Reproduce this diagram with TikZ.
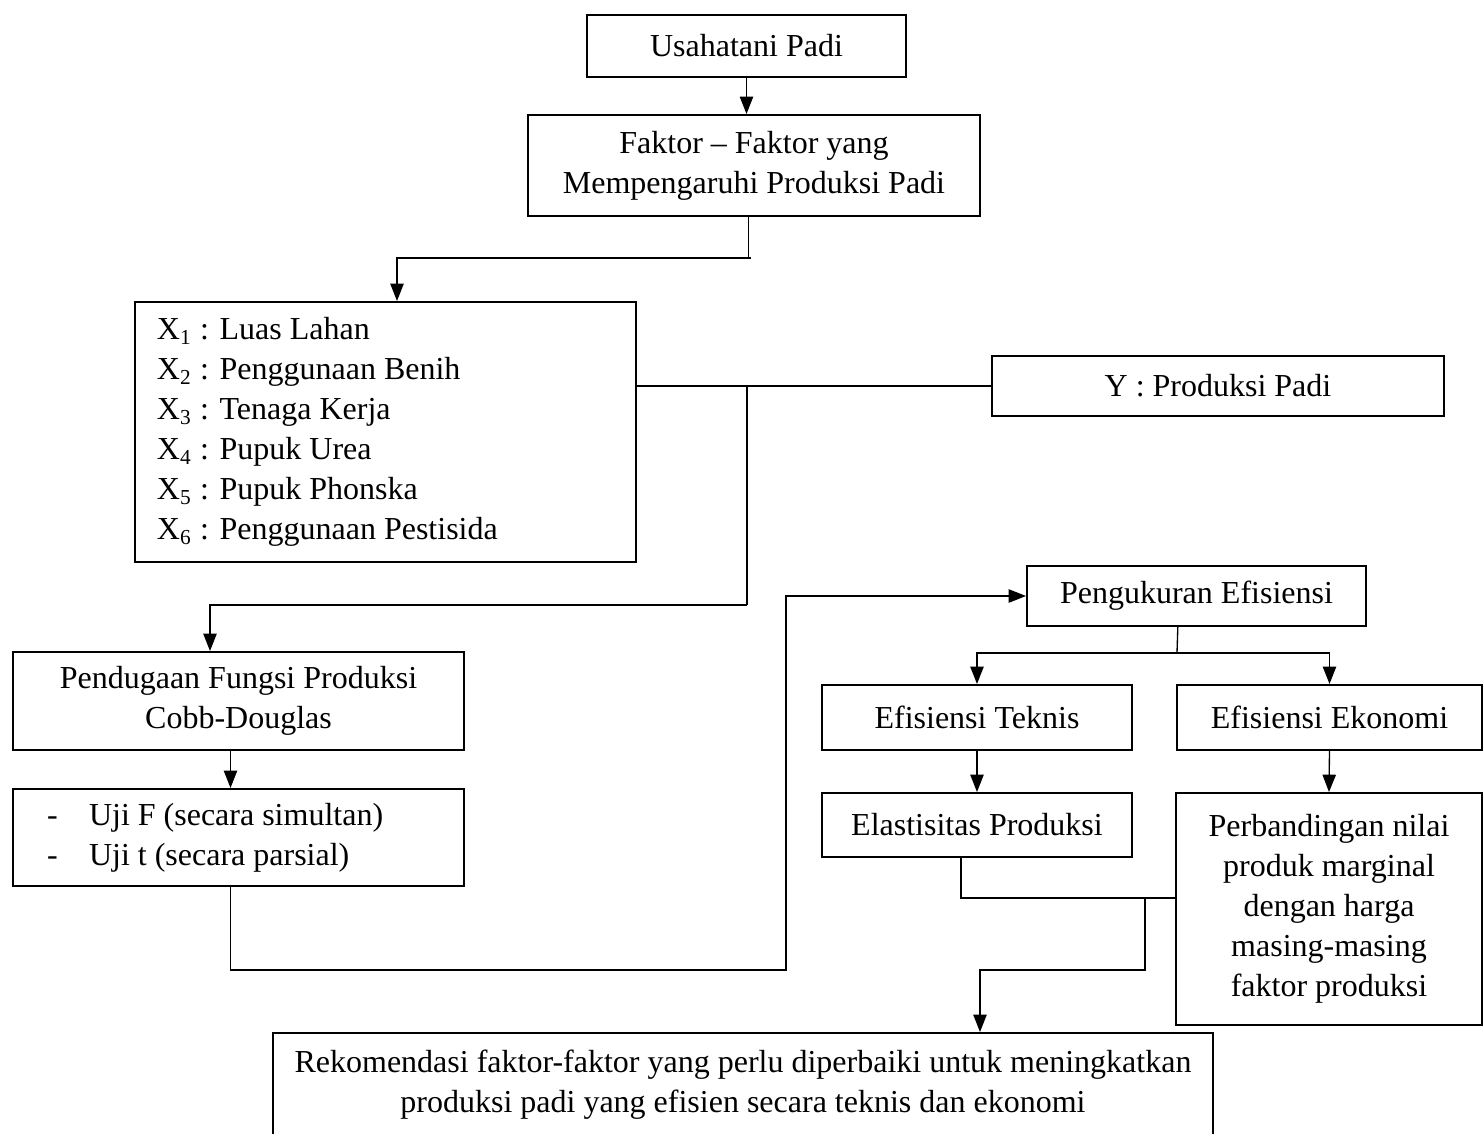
\documentclass[tikz,border=0pt]{standalone}
\usepackage{fontspec}
\setmainfont{Liberation Serif}
\usetikzlibrary{arrows.meta}

\tikzset{
  box/.style={draw, line width=0.75pt, align=center, inner sep=0pt, font=\fontsize{12}{15}\selectfont},
  conn/.style={line width=0.5pt},
  arr/.style={conn, -{Triangle[length=6.5pt,width=5pt]}}
}

\begin{document}
\begin{tikzpicture}[x=0.375pt,y=-0.375pt]
    \useasboundingbox (0,0) rectangle (1483,1133);

    % top boxes
    \node[box, minimum width=119.6pt, minimum height=23.25pt] (usaha) at (746.5,46) {Usahatani Padi};
    \node[box, minimum width=169.5pt, minimum height=37.9pt] (faktor) at (754,165.5) {Faktor -- Faktor yang\\Mempengaruhi Produksi Padi};

    % variables
    \node[box, minimum width=187.9pt, minimum height=97.5pt, text width=171.4pt, align=flush left, inner xsep=8.25pt] (xvar) at (385.5,432)
      {X\textsubscript{1} : Luas Lahan\\X\textsubscript{2} : Penggunaan Benih\\X\textsubscript{3} : Tenaga Kerja\\X\textsubscript{4} : Pupuk Urea\\X\textsubscript{5} : Pupuk Phonska\\X\textsubscript{6} : Penggunaan Pestisida};
    \node[box, minimum width=169.5pt, minimum height=22.5pt] (ybox) at (1218,386) {Y : Produksi Padi};

    % left column
    \node[box, minimum width=169.1pt, minimum height=36.75pt] (pendugaan) at (238.5,701) {Pendugaan Fungsi Produksi\\Cobb-Douglas};
    \node[box, minimum width=169.1pt, minimum height=36.4pt, text width=143.6pt, align=flush left, inner xsep=12.75pt] (uji) at (238.5,837.5)
      {\makebox[15.75pt][l]{-}Uji F (secara simultan)\\\makebox[15.75pt][l]{-}Uji t (secara parsial)};

    % right column
    \node[box, minimum width=127.1pt, minimum height=22.5pt] (pengukuran) at (1196.5,596) {Pengukuran Efisiensi};
    \node[box, minimum width=116.25pt, minimum height=24.4pt] (teknis) at (977,717.5) {Efisiensi Teknis};
    \node[box, minimum width=114.4pt, minimum height=24.4pt] (ekonomi) at (1329.5,717.5) {Efisiensi Ekonomi};
    \node[box, minimum width=116.25pt, minimum height=24pt] (elastisitas) at (977,825) {Elastisitas Produksi};
    \node[box, minimum width=114.75pt, minimum height=87pt] (perbandingan) at (1329,909)
      {Perbandingan nilai\\produk marginal\\dengan harga\\masing-masing\\faktor produksi};

    % result
    \node[box, minimum width=352.5pt, minimum height=39pt] (rekomendasi) at (743,1085)
      {Rekomendasi faktor-faktor yang perlu diperbaiki untuk meningkatkan\\produksi padi yang efisien secara teknis dan ekonomi};

    % Usahatani -> Faktor
    \draw[arr] (usaha.south) -- (usaha.south |- faktor.north);

    % Faktor -> X
    \coordinate (f0) at ([xshift=-2pt]faktor.south);
    \coordinate (f1) at (751,258);
    \coordinate (f2) at (397,258);
    \draw[conn] (f0) |- (f1);
    \draw[arr] (f1) -- (f2) -- (f2 |- xvar.north);

    % X -> Y and down to Pendugaan
    \coordinate (x1) at (747,386);
    \coordinate (x2) at (747,605);
    \coordinate (x3) at (210,605);
    \draw[conn] (ybox.west -| xvar.east) -- (ybox.west);
    \draw[conn] (x1) -- (x2);
    \draw[arr] (x2) -- (x3) -- (x3 |- pendugaan.north);

    % Pendugaan -> Uji
    \coordinate (p0) at ([xshift=-3pt]pendugaan.south);
    \draw[arr] (p0) -- (p0 |- uji.north);

    % Uji -> Pengukuran
    \coordinate (u0) at ([xshift=-3pt]uji.south);
    \coordinate (u1) at (786,970);
    \draw[arr] (u0) |- (u1) |- (pengukuran.west);

    % Pengukuran -> Teknis, Ekonomi
    \coordinate (m0) at ([xshift=-7pt]pengukuran.south);
    \coordinate (m1) at (1177,653);
    \draw[conn] (m0) -- (m1);
    \draw[arr] (m1) -| (teknis.north);
    \draw[arr] (m1) -| (ekonomi.north);

    % Teknis -> Elastisitas, Ekonomi -> Perbandingan
    \draw[arr] (teknis.south) -- (elastisitas.north);
    \draw[arr] (ekonomi.south) -- (perbandingan.north);

    % Elastisitas -> Perbandingan
    \coordinate (e0) at ([xshift=-6pt]elastisitas.south);
    \coordinate (e1) at (1176,898);
    \draw[conn] (e0) |- (e1);

    % -> Rekomendasi
    \coordinate (r1) at (1145,898);
    \coordinate (r2) at (980,970);
    \draw[arr] (r1) |- (r2) -- (r2 |- rekomendasi.north);
\end{tikzpicture}
\end{document}
